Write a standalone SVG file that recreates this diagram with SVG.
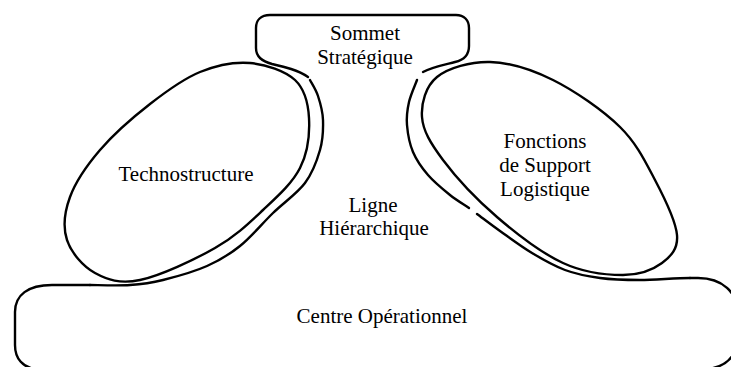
<svg xmlns="http://www.w3.org/2000/svg" width="731" height="367" viewBox="0 0 731 367">
  <style>
    .outline { fill: none; stroke: #000; stroke-width: 2.4; stroke-linecap: round; stroke-linejoin: round; }
    .label { font-family: "Liberation Serif", "Times New Roman", serif; font-size: 21px; fill: #000; text-anchor: middle; }
  </style>
  <rect width="731" height="367" fill="#fff"/>

  <!-- Strategic apex: rounded box whose lower corners flare into the middle line -->
  <g id="sommet-strategique">
    <path class="outline" d="M308,77 C298,70 285,67 272,64 C262,61 256,57 256,48 L256,28 C256,20 261,15 270,15 L456,15 C464,15 469,20 469,28 L469,46 C469,55 464,60 455,62 C443,65 432,67 423,72"/>
    <text class="label" x="365" y="40">Sommet</text>
    <text class="label" x="365" y="64">Stratégique</text>
  </g>

  <!-- Technostructure: tilted oval on the left -->
  <g id="technostructure">
    <path class="outline" d="M250,63 C265.8,64.3 285.2,70.8 295,80 C304.8,89.2 308.2,103.3 309,118 C309.8,132.7 307.7,152.7 300,168 C292.3,183.3 277.2,196.7 263,210 C248.8,223.3 235.5,236.3 215,248 C194.5,259.7 160,275.8 140,280 C120,284.2 107.2,279.7 95,273 C82.8,266.3 71.2,252.7 67,240 C62.8,227.3 64.5,212 70,197 C75.5,182 86.7,165.5 100,150 C113.3,134.5 133.3,117 150,104 C166.7,91 183.3,78.8 200,72 C216.7,65.2 234.2,61.7 250,63 Z"/>
    <text class="label" x="186" y="181">Technostructure</text>
  </g>

  <!-- Support staff: tilted oval on the right -->
  <g id="fonctions-support">
    <path class="outline" d="M490,62 C509.3,62.5 531.3,69.2 553,80 C574.7,90.8 603,110.3 620,127 C637,143.7 645.5,162 655,180 C664.5,198 675.8,221.2 677,235 C678.2,248.8 671,256.3 662,263 C653,269.7 639.5,275 623,275 C606.5,275 584,272.7 563,263 C542,253.3 517,234.2 497,217 C477,199.8 455.5,176.7 443,160 C430.5,143.3 423,130.8 422,117 C421,103.2 425.7,86.2 437,77 C448.3,67.8 470.7,61.5 490,62 Z"/>
    <text class="label" x="545" y="148">Fonctions</text>
    <text class="label" x="545" y="172">de Support</text>
    <text class="label" x="545" y="196">Logistique</text>
  </g>

  <!-- Middle line: the two walls hugging the ovals -->
  <g id="ligne-hierarchique">
    <path class="outline" d="M310,80 C311.3,82.7 315.8,89.3 318,96 C320.2,102.7 322.7,111 323,120 C323.3,129 323,139.5 320,150 C317,160.5 312.8,172.5 305,183 C297.2,193.5 283.8,202.5 273,213 C262.2,223.5 251,237.2 240,246 C229,254.8 219.8,260.3 207,266 C194.2,271.7 175.8,276.8 163,280 C150.2,283.2 142.2,284.2 130,285 C117.8,285.8 96.7,285 90,285"/>
    <path class="outline" d="M417,80 C415.7,83.7 410.7,94.5 409,102 C407.3,109.5 406.3,116.7 407,125 C407.7,133.3 409.5,143.7 413,152 C416.5,160.3 421.8,167.8 428,175 C434.2,182.2 443.2,189.5 450,195 C456.8,200.5 464.5,204.8 469,208"/>
    <path class="outline" d="M477,214 C482.2,217.8 490.8,224.5 500,231 C509.2,237.5 521.2,246.5 532,253 C542.8,259.5 553.7,265.8 565,270 C576.3,274.2 587.5,276.3 600,278 C612.5,279.7 625,280 640,280 C655,280 675,278 690,278"/>
    <text class="label" x="373" y="212">Ligne</text>
    <text class="label" x="374" y="235">Hiérarchique</text>
  </g>

  <!-- Operating core: wide rounded base running off the bottom edge -->
  <g id="centre-operationnel">
    <path class="outline" d="M90,285 L52,285 C28,285 15,295 15,312 L15,345 C15,358 22,368 38,369.5 L705,369.5 C728,367 738,355 738,335 L738,315 C738,292 722,278 698,278 L690,278"/>
    <text class="label" x="382" y="323">Centre Opérationnel</text>
  </g>
</svg>
